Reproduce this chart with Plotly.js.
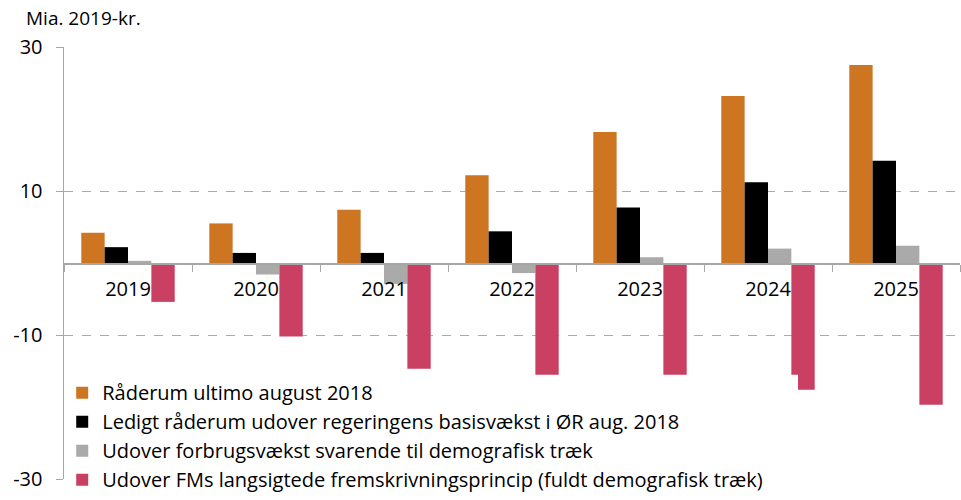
<!DOCTYPE html>
<html>
<head>
<meta charset="utf-8">
<script src="https://cdn.plot.ly/plotly-3.0.1.min.js"></script>
<style>html,body{margin:0;padding:0;background:#fff;}#chart{width:961px;height:500px;}</style>
</head>
<body>
<div id="chart"></div>
<script>
const years = ['2019', '2020', '2021', '2022', '2023', '2024', '2025'];
const seriesNames = [
  'Råderum ultimo august 2018',
  'Ledigt råderum udover regeringens basisvækst i ØR aug. 2018',
  'Udover forbrugsvækst svarende til demografisk træk',
  'Udover FMs langsigtede fremskrivningsprincip (fuldt demografisk træk)'
];
const raaderum = [4.2, 5.5, 7.4, 12.2, 18.2, 23.2, 27.5];
const ledigt = [2.2, 1.4, 1.4, 4.4, 7.7, 11.2, 14.2];
const demografisk = [0.3, -1.6, -2.9, -1.4, 0.8, 2.0, 2.4];
const fmPrincip = [-5.4, -10.2, -14.7, -16.0, -16.3, -17.6, -19.7];
const yTicks = [-30, -10, 10, 30];
const yUnit = 'Mia. 2019-kr.';

const colors = ['#CD7520', '#000000', '#AAAAAA', '#C94062'];
const FONT = '"Open Sans", "Noto Sans", sans-serif';
const values = [raaderum, ledigt, demografisk, fmPrincip];

const data = values.map((v, i) => ({
  type: 'bar',
  x: years,
  y: v,
  name: seriesNames[i],
  legendgroup: 'g' + i,
  marker: {color: colors[i], line: {width: 0}},
  hoverinfo: 'skip'
}));

const layout = {
  width: 961, height: 500,
  margin: {l: 64, r: 1, t: 47, b: 18},
  paper_bgcolor: '#fff', plot_bgcolor: '#fff',
  font: {family: FONT, size: 20, color: '#000'},
  barmode: 'group',
  bargap: 0.27,
  bargroupgap: 0,
  showlegend: true,
  legend: {
    x: -0.002, xanchor: 'left', y: 0.245, yanchor: 'top',
    bgcolor: 'rgba(255,255,255,0)',
    font: {family: FONT, size: 20, color: '#000'},
    tracegroupgap: 5,
    traceorder: 'normal',
    itemwidth: 30
  },
  xaxis: {
    type: 'category',
    anchor: 'free', position: 0.5,
    automargin: false,
    showline: true, linecolor: '#A6A6A6', linewidth: 1.5,
    ticks: 'outside', ticklen: 7, tickcolor: '#A6A6A6', tickson: 'boundaries',
    ticklabelstandoff: 7,
    showgrid: false, zeroline: false,
    tickfont: {family: FONT, size: 20, color: '#000'},
    fixedrange: true
  },
  yaxis: {
    range: [-30, 30],
    automargin: false,
    tickvals: yTicks,
    ticktext: yTicks.map(String),
    showline: true, linecolor: '#A6A6A6', linewidth: 1.5,
    ticks: 'outside', ticklen: 7, tickcolor: '#A6A6A6',
    ticklabelstandoff: 9,
    showgrid: true, gridcolor: '#AAAAAA', griddash: 'dash', gridwidth: 1,
    zeroline: false,
    tickfont: {family: FONT, size: 20, color: '#000'},
    fixedrange: true
  },
  shapes: [{
    type: 'rect', xref: 'paper', yref: 'paper', layer: 'above',
    x0: 0.009, x1: 0.8192, y0: -0.01, y1: 0.2414,
    fillcolor: '#ffffff', line: {width: 0}
  }],
  annotations: [{
    text: yUnit, xref: 'paper', yref: 'paper',
    x: -0.055, y: 1.0, xanchor: 'left', yanchor: 'bottom', yshift: 14, xshift: 9,
    showarrow: false, font: {family: FONT, size: 19, color: '#000'}
  }]
};

Plotly.newPlot('chart', data, layout, {displayModeBar: false, staticPlot: true});
</script>
</body>
</html>
